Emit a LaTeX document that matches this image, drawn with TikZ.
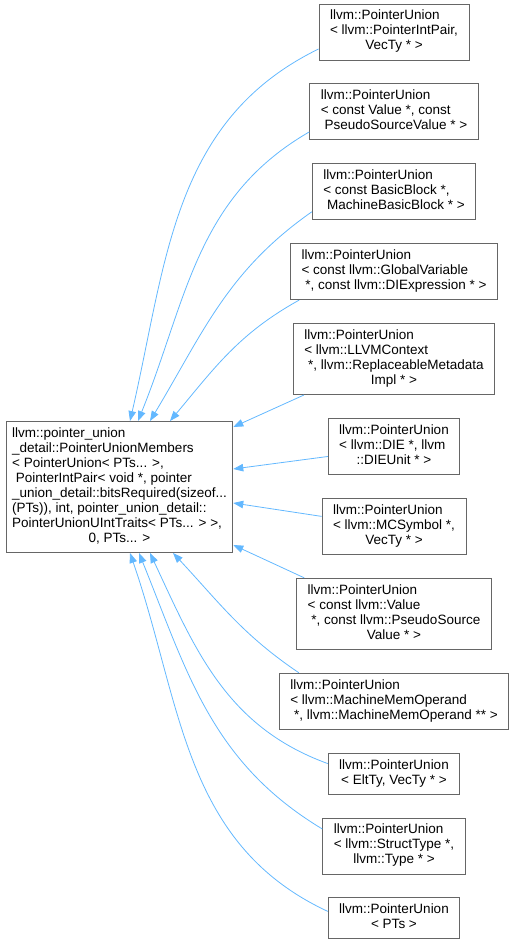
\documentclass[tikz,border=0pt]{standalone}
\usepackage{fontspec}
\setmainfont{Liberation Sans}
\usepackage{xcolor}
\usepackage{tikz}
\usetikzlibrary{arrows.meta,positioning}

\definecolor{edgeblue}{HTML}{63B8FF}
\definecolor{boxgray}{HTML}{666666}
\newcommand{\cname}[2]{\begin{tabular}{@{}l@{}}#1\\\multicolumn{1}{@{}c@{}}{#2}\end{tabular}}

\begin{document}
\begin{tikzpicture}[
  x=1pt, y=1pt,
  node distance=23pt,
  every node/.style={font=\fontsize{13.5}{15}\selectfont},
  cls/.style={rectangle, draw=boxgray, fill=white, line width=0.9pt,
              inner xsep=11pt, inner ysep=5.5pt},
  arr/.style={edgeblue, line width=0.8pt, -{Triangle[length=10pt,width=7.5pt]}},
]
\useasboundingbox (0,0) rectangle (511,942);

\node[cls, inner xsep=6pt] (members) at (119.5,455)
  {\cname{llvm::pointer\_union\\\_detail::PointerUnionMembers\\< PointerUnion< PTs... >,\\
   \ PointerIntPair< void *, pointer\\\_union\_detail::bitsRequired(sizeof...\\
   (PTs)), int, pointer\_union\_detail::\\PointerUnionUIntTraits< PTs... > >,}{0, PTs... >}};

\node[cls] (pair) at (394,910)
  {\cname{llvm::PointerUnion\\< llvm::PointerIntPair,}{VecTy * >}};
\node[cls, below=of pair] (pseudo)
  {\cname{llvm::PointerUnion\\< const Value *, const}{\ PseudoSourceValue * >}};
\node[cls, below=of pseudo] (block)
  {\cname{llvm::PointerUnion\\< const BasicBlock *,}{\ MachineBasicBlock * >}};
\node[cls, below=of block] (global)
  {\cname{llvm::PointerUnion\\< const llvm::GlobalVariable}{\ *, const llvm::DIExpression * >}};
\node[cls, below=of global] (context)
  {\cname{llvm::PointerUnion\\< llvm::LLVMContext\\\ *, llvm::ReplaceableMetadata}{Impl * >}};
\node[cls, below=of context] (die)
  {\cname{llvm::PointerUnion\\< llvm::DIE *, llvm}{::DIEUnit * >}};
\node[cls, below=of die] (symbol)
  {\cname{llvm::PointerUnion\\< llvm::MCSymbol *,}{VecTy * >}};
\node[cls, below=of symbol] (value)
  {\cname{llvm::PointerUnion\\< const llvm::Value\\\ *, const llvm::PseudoSource}{Value * >}};
\node[cls, below=of value] (memop)
  {\cname{llvm::PointerUnion\\< llvm::MachineMemOperand}{\ *, llvm::MachineMemOperand ** >}};
\node[cls, below=of memop] (elt)
  {\cname{llvm::PointerUnion}{< EltTy, VecTy * >}};
\node[cls, below=of elt] (struct)
  {\cname{llvm::PointerUnion\\< llvm::StructType *,}{llvm::Type * >}};
\node[cls, below=of struct] (pts)
  {\cname{llvm::PointerUnion}{< PTs >}};

\draw[arr] ([yshift=-17pt]pair.west)    to[out=206, in=77] ([xshift=10.5pt]members.north);
\draw[arr] ([yshift=-20pt]pseudo.west)  to[out=210, in=68] ([xshift=18.5pt]members.north);
\draw[arr] ([yshift=-20pt]block.west)   to[out=215, in=59] ([xshift=30.5pt]members.north);
\draw[arr] ([xshift=9pt]global.south west) to[out=209, in=50] ([xshift=50.5pt]members.north);
\draw[arr] ([xshift=11pt]context.south west) -- ([yshift=60pt]members.east);
\draw[arr] ([yshift=-10pt]die.west)     -- ([yshift=18pt]members.east);
\draw[arr] ([yshift=10pt]symbol.west)   -- ([yshift=-16pt]members.east);
\draw[arr] ([xshift=8pt]value.north west) -- ([yshift=-58pt]members.east);
\draw[arr] ([xshift=20pt]memop.north west) to[out=146, in=-47] ([xshift=53.5pt]members.south);
\draw[arr] ([yshift=10pt]elt.west)      to[out=160, in=-65] ([xshift=30.5pt]members.south);
\draw[arr] ([yshift=17pt]struct.west)   to[out=149, in=-68] ([xshift=19.5pt]members.south);
\draw[arr] ([yshift=7pt]pts.west)       to[out=155, in=-71] ([xshift=10.5pt]members.south);
\end{tikzpicture}
\end{document}
